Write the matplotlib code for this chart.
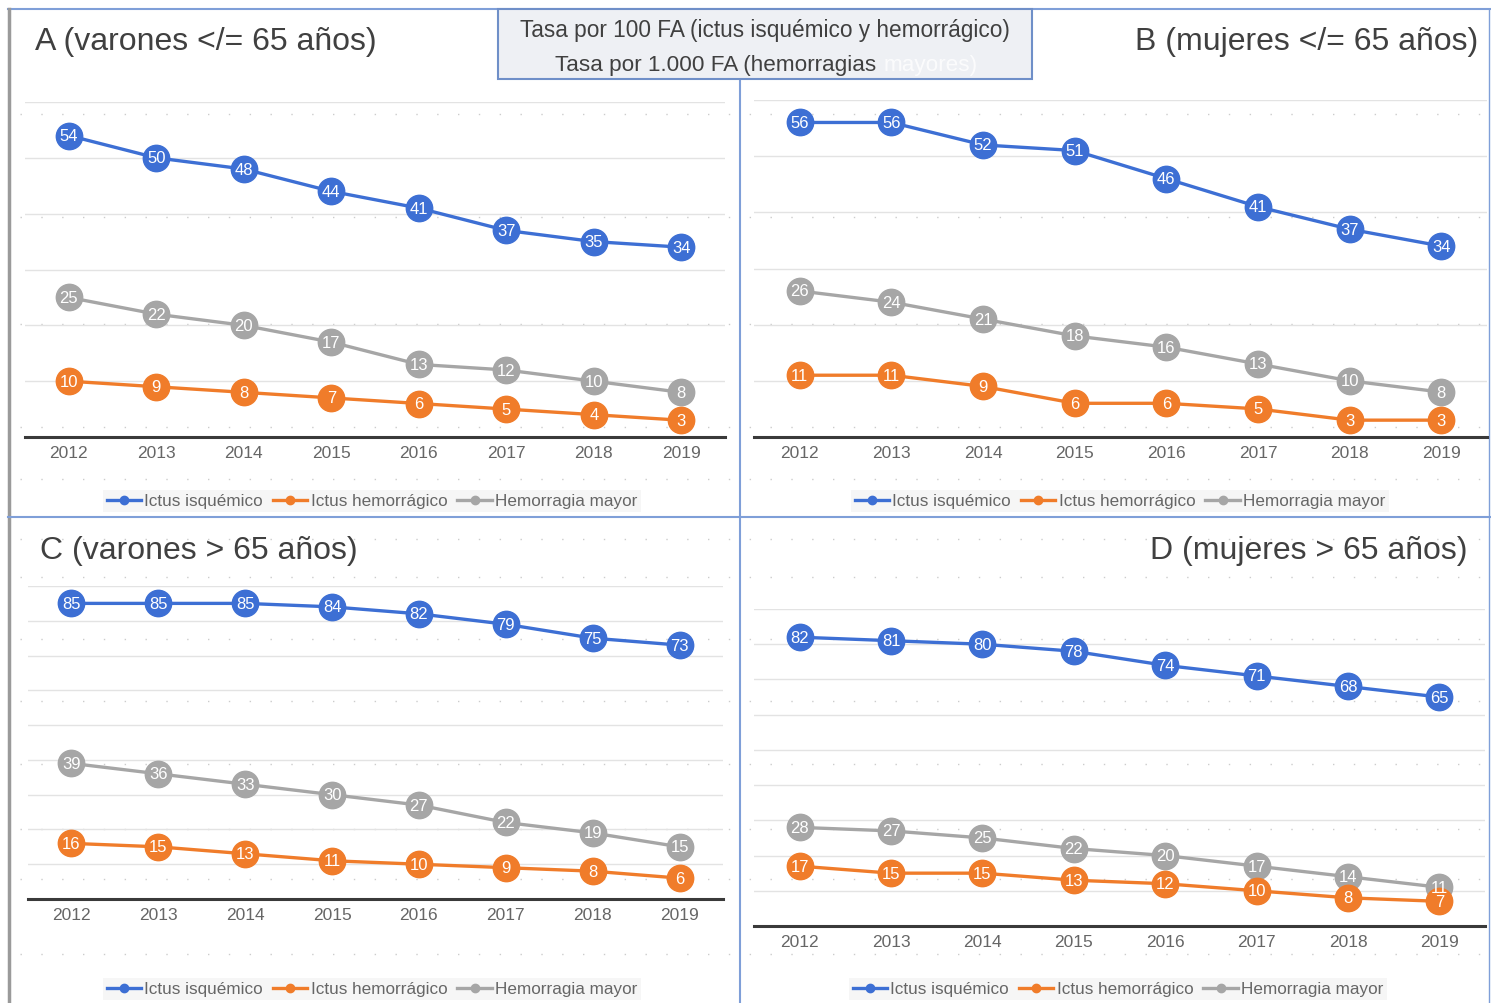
import numpy as np
import matplotlib as mpl
import matplotlib.pyplot as plt
from matplotlib.lines import Line2D
from matplotlib.patches import Rectangle

FONT = ['Liberation Sans', 'DejaVu Sans']
mpl.rcParams['font.family'] = FONT

years = [2012, 2013, 2014, 2015, 2016, 2017, 2018, 2019]
series_names = ['Ictus isquémico', 'Ictus hemorrágico', 'Hemorragia mayor']
colors = ['#3D6FD4', '#F07C2A', '#A6A6A6']

isq_A = [54, 50, 48, 44, 41, 37, 35, 34]
hem_A = [10, 9, 8, 7, 6, 5, 4, 3]
may_A = [25, 22, 20, 17, 13, 12, 10, 8]

isq_B = [56, 56, 52, 51, 46, 41, 37, 34]
hem_B = [11, 11, 9, 6, 6, 5, 3, 3]
may_B = [26, 24, 21, 18, 16, 13, 10, 8]

isq_C = [85, 85, 85, 84, 82, 79, 75, 73]
hem_C = [16, 15, 13, 11, 10, 9, 8, 6]
may_C = [39, 36, 33, 30, 27, 22, 19, 15]

isq_D = [82, 81, 80, 78, 74, 71, 68, 65]
hem_D = [17, 15, 15, 13, 12, 10, 8, 7]
may_D = [28, 27, 25, 22, 20, 17, 14, 11]

titles = ['A (varones </= 65 años)', 'B (mujeres </= 65 años)',
          'C (varones > 65 años)', 'D (mujeres > 65 años)']

W, H = 1491, 1004
fig = plt.figure(figsize=(W / 100, H / 100), dpi=100)
fig.patch.set_facecolor('white')


def px(x0, y0, x1, y1):
    # pixel box (top-left origin) -> figure fraction rect
    return [x0 / W, 1 - y1 / H, (x1 - x0) / W, (y1 - y0) / H]


# faint background dot pattern (slide grid)
bg = fig.add_axes([0, 0, 1, 1], zorder=-5)
bg.set_xlim(0, W)
bg.set_ylim(H, 0)
bg.axis('off')
for yy in [115, 218, 325, 428, 480, 540, 578, 640, 702, 765, 830, 880, 955]:
    bg.plot([20, W - 10], [yy, yy], color='#9a9a9a', lw=1.0,
            ls=(0, (1, 14)), alpha=0.5)

panels = [
    (isq_A, hem_A, may_A, px(25, 103, 725, 438), 60, (372, 502)),
    (isq_B, hem_B, may_B, px(754, 101, 1487, 438), 60, (1120, 502)),
    (isq_C, hem_C, may_C, px(28, 587, 723, 900), 90, (372, 990)),
    (isq_D, hem_D, may_D, px(754, 610, 1485, 927), 90, (1118, 990)),
]

for isq, hem, may, rect, ymax, legpos in panels:
    ax = fig.add_axes(rect)
    ax.set_xlim(2011.5, 2019.5)
    ax.set_ylim(0, ymax)
    ax.set_facecolor('none')
    for s in ['top', 'right', 'left']:
        ax.spines[s].set_visible(False)
    ax.spines['bottom'].set_color('#3a3a3a')
    ax.spines['bottom'].set_linewidth(2.2)
    ax.set_yticks(np.arange(10, ymax + 1, 10))
    ax.set_yticklabels([])
    ax.tick_params(axis='y', length=0)
    ax.yaxis.grid(True, color='#e3e3e3', lw=1.0)
    ax.set_xticks(years)
    ax.set_xticklabels([str(y) for y in years], color='#666666', fontsize=12.5)
    ax.tick_params(axis='x', length=0, pad=6)
    ax.set_axisbelow(True)

    for vals, c in zip([isq, hem, may][::-1], colors[::-1]):
        ax.plot(years, vals, color=c, lw=2.4, marker='o', ms=19,
                markeredgecolor=c, zorder=3, clip_on=False)
        for x, v in zip(years, vals):
            ax.text(x, v, str(v), color='white', fontsize=12, ha='center',
                    va='center', zorder=4, clip_on=False)

    handles = [Line2D([], [], color=c, lw=2.4, marker='o', ms=6) for c in colors]
    fig.legend(handles, series_names, loc='center',
               bbox_to_anchor=(legpos[0] / W, 1 - legpos[1] / H),
               ncol=3, frameon=True, facecolor='#f4f4f4', edgecolor='none',
               fontsize=12.3, labelcolor='#666666', handlelength=2.0,
               handletextpad=0.2, columnspacing=0.6, borderpad=0.2,
               fancybox=False)

# panel titles
tkw = dict(fontsize=23, color='#404040', va='center')
fig.text(35 / W, 1 - 42 / H, titles[0], ha='left', **tkw)
fig.text(1478 / W, 1 - 42 / H, titles[1], ha='right', **tkw)
fig.text(40 / W, 1 - 551 / H, titles[2], ha='left', **tkw)
fig.text(1468 / W, 1 - 551 / H, titles[3], ha='right', **tkw)

# panel frame lines
bg.plot([8, W], [10, 10], color='#7f9fd8', lw=1.5)
bg.plot([9, 9], [10, H], color='#9a9a9a', lw=2.5)
bg.plot([8, W], [518, 518], color='#7f9fd8', lw=1.5)
bg.plot([740, 740], [80, H], color='#7f9fd8', lw=1.5)
bg.plot([1489, 1489], [10, H], color='#7f9fd8', lw=1.0)

# header box
bg.add_patch(Rectangle((498, 10), 534, 70, facecolor='#eef0f4',
                       edgecolor='#6f8fc8', lw=1.5, zorder=5))
bg.text(765, 31, 'Tasa por 100 FA (ictus isquémico y hemorrágico)',
        fontsize=16.3, color='#404040', ha='center', va='center', zorder=6)
bg.text(555, 65, 'Tasa por 1.000 FA (hemorragias', fontsize=16.2,
        color='#404040', ha='left', va='center', zorder=6)
bg.text(884, 65, 'mayores)', fontsize=16.2, color='#ffffff', alpha=0.8,
        ha='left', va='center', zorder=6)

plt.savefig('out.png', dpi=100)
plt.close()
